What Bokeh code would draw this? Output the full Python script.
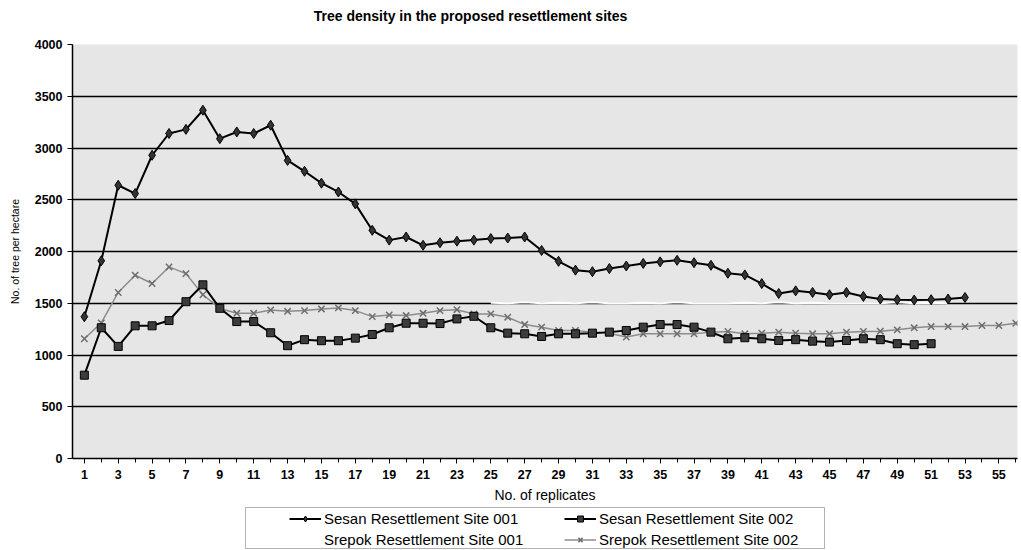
from bokeh.plotting import figure
from bokeh.layouts import column
from bokeh.models import ColumnDataSource, Legend, LegendItem, FixedTicker, Range1d, BoxAnnotation, Label
from bokeh.embed import file_html
from bokeh.resources import INLINE

# ---------------- data ----------------
sesan001_x = list(range(1, 54))
sesan001 = [1370, 1910, 2640, 2560, 2930, 3140, 3180, 3365, 3090, 3155,
            3140, 3220, 2880, 2775, 2660, 2575, 2460, 2205, 2110, 2140,
            2060, 2085, 2100, 2110, 2125, 2130, 2140, 2010, 1905, 1820,
            1805, 1835, 1860, 1885, 1900, 1915, 1892, 1867, 1790, 1774,
            1690, 1594, 1620, 1604, 1582, 1604, 1566, 1541, 1534, 1531,
            1534, 1541, 1556]

sesan002_x = list(range(1, 52))
sesan002 = [805, 1263, 1083, 1282, 1282, 1333, 1515, 1678, 1451, 1323,
            1323, 1215, 1090, 1148, 1138, 1138, 1163, 1198, 1263, 1307,
            1307, 1304, 1349, 1374, 1263, 1211, 1205, 1179, 1205, 1205,
            1211, 1221, 1237, 1269, 1294, 1294, 1269, 1221, 1157, 1167,
            1157, 1141, 1148, 1134, 1125, 1141, 1157, 1148, 1109, 1100,
            1109]

srepok001_x = list(range(25, 53))
srepok001 = [1505, 1500, 1510, 1500, 1505, 1500, 1510, 1500, 1500, 1505,
             1500, 1510, 1500, 1500, 1500, 1505, 1500, 1510, 1500, 1505,
             1500, 1500, 1500, 1500, 1510, 1500, 1505, 1500]

srepok002_x = list(range(1, 57))
srepok002 = [1157, 1310, 1604, 1771, 1691, 1851, 1786, 1582, 1450, 1403,
             1403, 1435, 1422, 1429, 1445, 1455, 1429, 1371, 1387, 1381,
             1403, 1429, 1438, 1397, 1397, 1365, 1294, 1269, 1237, 1237,
             1221, 1211, 1173, 1205, 1205, 1205, 1205, 1221, 1227, 1205,
             1211, 1221, 1211, 1205, 1205, 1221, 1227, 1230, 1243, 1263,
             1275, 1275, 1275, 1285, 1285, 1307]

x_tick_labels = list(range(1, 56, 2))
y_ticks = list(range(0, 4001, 500))

title_text = "Tree density in the proposed resettlement sites"
series_names = ["Sesan Resettlement Site 001", "Sesan Resettlement Site 002",
                "Srepok Resettlement Site 001", "Srepok Resettlement Site 002"]

FONT = "Liberation Sans"

STY = {
    "s1_line": dict(line_color="black", line_width=2),
    "s1_mark": dict(marker="diamond", size=10, fill_color="#333333", line_color="black"),
    "s2_line": dict(line_color="black", line_width=2),
    "s2_mark": dict(marker="square", size=8, fill_color="#3c3c3c", line_color="black"),
    "s3_line": dict(line_color="white", line_width=2),
    "s4_line": dict(line_color="#8c8c8c", line_width=1.5),
    "s4_mark": dict(marker="x", size=9, line_color="#6e6e6e", line_width=1.5),
}

s1 = ColumnDataSource(dict(x=sesan001_x, y=sesan001))
s2 = ColumnDataSource(dict(x=sesan002_x, y=sesan002))
s3 = ColumnDataSource(dict(x=srepok001_x, y=srepok001))
s4 = ColumnDataSource(dict(x=srepok002_x, y=srepok002))

# ---------------- title strip (pixel-mapped ranges) ----------------
t = figure(width=1020, height=30, output_backend="svg", toolbar_location=None,
           x_range=Range1d(72, 1017), y_range=Range1d(0, 30),
           min_border_left=72, min_border_right=3, min_border_top=0, min_border_bottom=0,
           outline_line_color=None, border_fill_color="white",
           background_fill_color="white")
t.axis.visible = False
t.grid.visible = False
t.add_layout(Label(x=470, y=15, text=title_text, text_align="center",
                   text_baseline="middle", text_font=FONT, text_font_size="14px",
                   text_font_style="bold", text_color="black"))

# ---------------- main figure ----------------
p = figure(width=1020, height=475, output_backend="svg", toolbar_location=None,
           x_range=Range1d(0.3, 56.1), y_range=Range1d(0, 4000),
           min_border_left=72, min_border_right=3, min_border_top=14,
           min_border_bottom=45, background_fill_color="#e6e6e6",
           border_fill_color="white", outline_line_color=None)

p.xgrid.grid_line_color = None
p.ygrid.grid_line_color = "black"
p.ygrid.grid_line_width = 1.4
p.ygrid.ticker = FixedTicker(ticks=y_ticks)

p.xaxis.ticker = FixedTicker(ticks=x_tick_labels, minor_ticks=list(range(1, 57)))
p.yaxis.ticker = FixedTicker(ticks=y_ticks)
for ax in (p.xaxis[0], p.yaxis[0]):
    ax.axis_line_color = "black"
    ax.axis_line_width = 1.5
    ax.major_tick_line_color = "black"
    ax.minor_tick_line_color = "black"
    ax.major_tick_in = 0
    ax.minor_tick_in = 0
    ax.major_tick_out = 5
    ax.minor_tick_out = 4
    ax.major_label_text_font = FONT
    ax.major_label_text_font_size = "12.5px"
    ax.major_label_text_font_style = "bold"
    ax.major_label_text_color = "black"
    ax.axis_label_text_font = FONT
    ax.axis_label_text_font_style = "normal"
    ax.axis_label_text_color = "black"
p.yaxis.minor_tick_out = 0
p.xaxis.axis_label = "No. of replicates"
p.xaxis.axis_label_text_font_size = "14px"
p.xaxis.axis_label_standoff = 5
p.xaxis.major_label_standoff = 6
p.yaxis.axis_label = "No. of tree per hectare"
p.yaxis.axis_label_text_font_size = "10.5px"
p.yaxis.axis_label_standoff = 11
p.yaxis.major_label_standoff = 5

p.line("x", "y", source=s3, **STY["s3_line"])
p.line("x", "y", source=s4, **STY["s4_line"])
p.scatter("x", "y", source=s4, **STY["s4_mark"])
p.line("x", "y", source=s2, **STY["s2_line"])
p.scatter("x", "y", source=s2, **STY["s2_mark"])
p.line("x", "y", source=s1, **STY["s1_line"])
p.scatter("x", "y", source=s1, **STY["s1_mark"])

# ---------------- legend strip (pixel-mapped ranges) ----------------
q = figure(width=1020, height=45, output_backend="svg", toolbar_location=None,
           x_range=Range1d(72, 1017), y_range=Range1d(0, 45),
           min_border_left=72, min_border_right=3, min_border_top=0, min_border_bottom=0,
           outline_line_color=None, border_fill_color="white",
           background_fill_color="white")
q.axis.visible = False
q.grid.visible = False

# same series, outside this strip's ranges: only their legend glyphs show
l1 = q.line("x", "y", source=s1, **STY["s1_line"])
m1 = q.scatter("x", "y", source=s1, **STY["s1_mark"])
l2 = q.line("x", "y", source=s2, **STY["s2_line"])
m2 = q.scatter("x", "y", source=s2, **STY["s2_mark"])
l3 = q.line("x", "y", source=s3, **STY["s3_line"])
l4 = q.line("x", "y", source=s4, **STY["s4_line"])
m4 = q.scatter("x", "y", source=s4, **STY["s4_mark"])

q.add_layout(BoxAnnotation(left=245, right=824, bottom=2, top=43,
                           fill_alpha=0, line_color="black", line_width=1))

legend = Legend(items=[
    LegendItem(label=series_names[0], renderers=[l1, m1]),
    LegendItem(label=series_names[2], renderers=[l3]),
    LegendItem(label=series_names[1], renderers=[l2, m2]),
    LegendItem(label=series_names[3], renderers=[l4, m4]),
], ncols=2, location=(217, 2))
legend.label_text_font = FONT
legend.label_text_font_size = "15px"
legend.label_text_color = "black"
legend.glyph_width = 32
legend.glyph_height = 15
legend.label_height = 15
legend.label_width = 236
legend.label_standoff = 3
legend.spacing = 4
legend.padding = 3
legend.margin = 0
legend.border_line_color = None
legend.background_fill_alpha = 0
q.add_layout(legend, "center")

layout = column(t, p, q, spacing=0)
open("out.html", "w").write(file_html(layout, INLINE))
